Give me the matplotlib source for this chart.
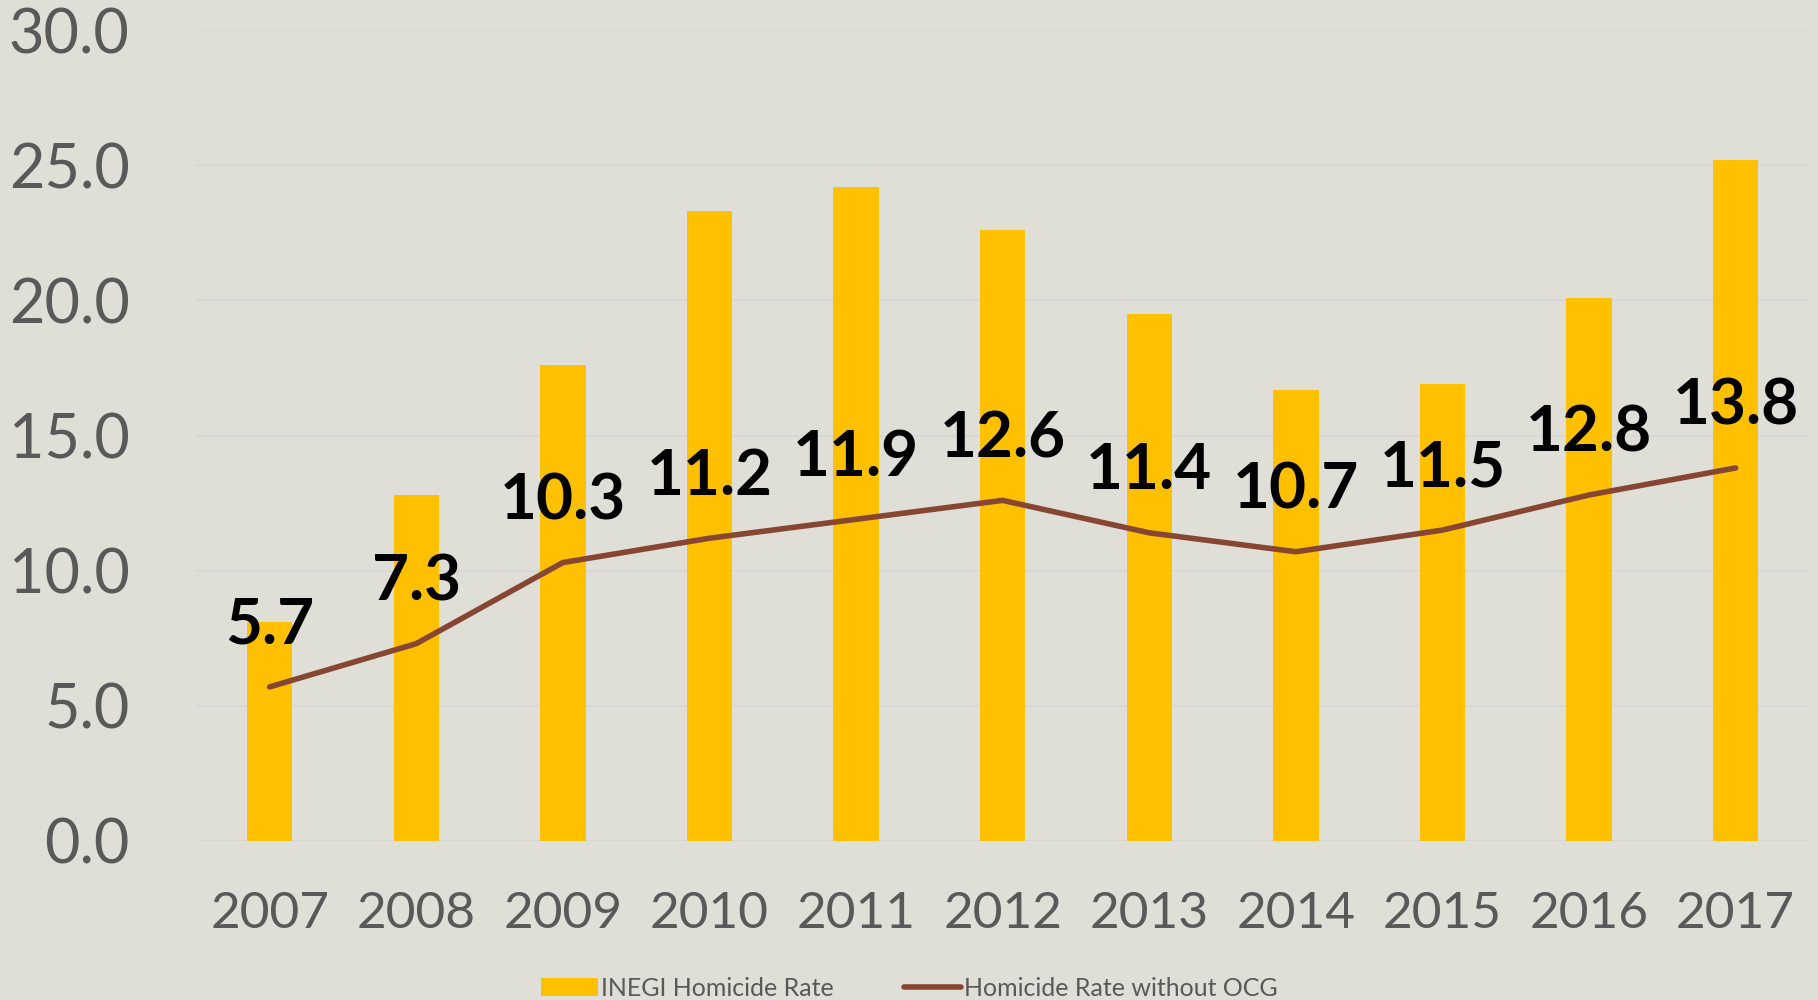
import matplotlib.pyplot as plt
import numpy as np

years = ["2007", "2008", "2009", "2010", "2011", "2012", "2013", "2014", "2015", "2016", "2017"]
inegi_rate = [8.1, 12.8, 17.6, 23.3, 24.2, 22.6, 19.5, 16.7, 16.9, 20.1, 25.2]
rate_without_ocg = [5.7, 7.3, 10.3, 11.2, 11.9, 12.6, 11.4, 10.7, 11.5, 12.8, 13.8]

bg = "#DFDED7"
plt.rcParams['font.family'] = ['Lato', 'DejaVu Sans']

fig = plt.figure(figsize=(18.18, 10), dpi=100, facecolor=bg)
ax = fig.add_axes([0.108, 0.159, 0.887, 0.811], facecolor=bg)

x = np.arange(len(years))
bars = ax.bar(x, inegi_rate, width=0.31, color="#FFC000", label="INEGI Homicide Rate", zorder=2)
line, = ax.plot(x, rate_without_ocg, color="#874632", linewidth=4, solid_capstyle="round",
                label="Homicide Rate without OCG", zorder=3)

for xi, v in zip(x, rate_without_ocg):
    ax.annotate(f"{v:.1f}", (xi, v), xytext=(0, 24), textcoords="offset points",
                ha="center", va="bottom", fontsize=46, fontweight="bold", color="black", zorder=4)

ax.set_ylim(0, 30)
ax.set_xlim(-0.5, len(years) - 0.5)
ax.set_yticks(np.arange(0, 31, 5))
ax.set_yticklabels([f"{t:.1f}" for t in np.arange(0, 31, 5)])
ax.set_xticks(x)
ax.set_xticklabels(years)
ax.tick_params(axis="y", length=0, pad=48, labelsize=44, labelcolor="#595959")
ax.tick_params(axis="x", length=0, pad=36, labelsize=37, labelcolor="#595959")
ax.grid(axis="y", color="#D6D6D6", linewidth=1.2, zorder=0)
for s in ax.spines.values():
    s.set_visible(False)

fig.legend([bars, line], ["INEGI Homicide Rate", "Homicide Rate without OCG"],
           loc="lower center", bbox_to_anchor=(0.50, -0.022), ncol=2, frameon=False,
           fontsize=18, labelcolor="#595959", handlelength=2.3, handletextpad=0.1,
           columnspacing=2.8)

fig.savefig("out.png", dpi=100, facecolor=bg)
